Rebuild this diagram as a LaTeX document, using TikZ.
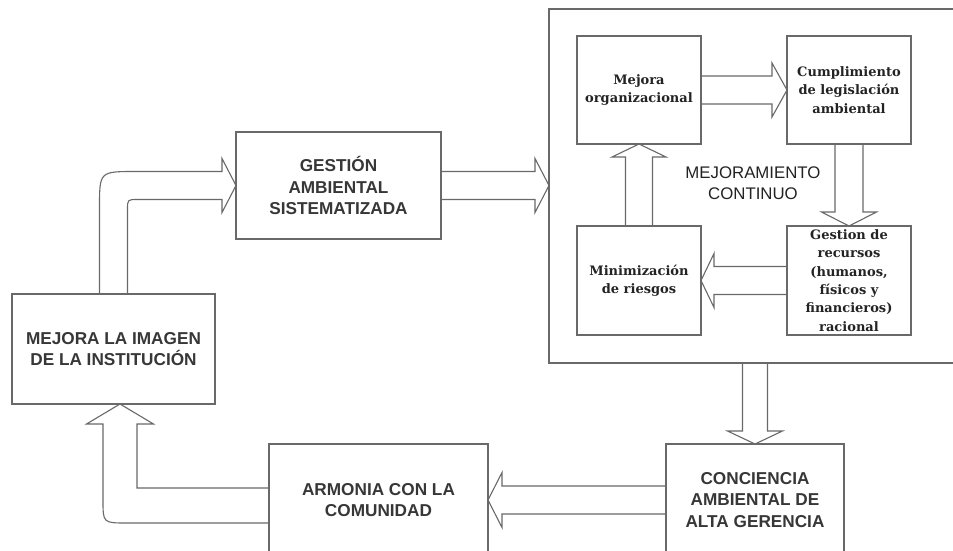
\documentclass[tikz,border=0pt]{standalone}
\usepackage{fontspec}
\setmainfont{Liberation Sans}
\newfontfamily\boxserif{DejaVu Serif}
\usetikzlibrary{calc}

\definecolor{linegray}{RGB}{105,105,105}
\definecolor{txt}{RGB}{35,35,35}
\definecolor{captxt}{RGB}{55,55,55}

% block arrows between boxes: #1 from, #2 to, #3 half shaft, #4 half head, #5 head length
\newcommand\blockright[5]{%
  \draw[conn] ($(#1.east)+(0,-#3)$) -- ($(#2.west|-#1.east)+(-#5,-#3)$)
    -- ($(#2.west|-#1.east)+(-#5,-#4)$) -- (#2.west|-#1.east)
    -- ($(#2.west|-#1.east)+(-#5,#4)$) -- ($(#2.west|-#1.east)+(-#5,#3)$)
    -- ($(#1.east)+(0,#3)$);}
\newcommand\blockleft[5]{%
  \draw[conn] ($(#1.west)+(0,-#3)$) -- ($(#2.east|-#1.west)+(#5,-#3)$)
    -- ($(#2.east|-#1.west)+(#5,-#4)$) -- (#2.east|-#1.west)
    -- ($(#2.east|-#1.west)+(#5,#4)$) -- ($(#2.east|-#1.west)+(#5,#3)$)
    -- ($(#1.west)+(0,#3)$);}
\newcommand\blockdown[5]{%
  \draw[conn] ($(#1.south-|#2.north)+(-#3,0)$) -- ($(#2.north)+(-#3,-#5)$)
    -- ($(#2.north)+(-#4,-#5)$) -- (#2.north)
    -- ($(#2.north)+(#4,-#5)$) -- ($(#2.north)+(#3,-#5)$)
    -- ($(#1.south-|#2.north)+(#3,0)$);}
\newcommand\blockup[5]{%
  \draw[conn] ($(#1.north-|#2.south)+(-#3,0)$) -- ($(#2.south)+(-#3,#5)$)
    -- ($(#2.south)+(-#4,#5)$) -- (#2.south)
    -- ($(#2.south)+(#4,#5)$) -- ($(#2.south)+(#3,#5)$)
    -- ($(#1.north-|#2.south)+(#3,0)$);}

\begin{document}
\begin{tikzpicture}[x=1pt,y=-1pt,
  box/.style={draw=linegray, line width=1.1pt, inner sep=0pt, outer sep=0pt,
    anchor=north west, align=center, text=txt},
  caps/.style={text=captxt, font=\bfseries\fontsize{17.2}{21.5}\selectfont},
  small/.style={font=\boxserif\bfseries\fontsize{13}{18.4}\selectfont,
    minimum width=124pt, minimum height=108pt},
  conn/.style={draw=linegray, line width=1.1pt, line join=miter}]

\useasboundingbox (0,0) rectangle (953,551);
\clip (0,0) rectangle (953,551);
\fill[white] (0,0) rectangle (953,551);

% outer boxes
\node[box,caps,minimum width=203pt,minimum height=110pt] (img) at (12,294)
  {MEJORA LA IMAGEN\\DE LA INSTITUCIÓN};
\node[box,caps,minimum width=205pt,minimum height=107pt] (gest) at (236,132)
  {GESTIÓN\\AMBIENTAL\\SISTEMATIZADA};
\node[box,minimum width=430pt,minimum height=354pt] (big) at (549,9) {};
\node[text=txt,align=center,font=\fontsize{16.8}{21.5}\selectfont] (mc) at (753,183)
  {MEJORAMIENTO\\CONTINUO};
\node[box,caps,minimum width=178pt,minimum height=112pt] (conc) at (666,444)
  {CONCIENCIA\\AMBIENTAL DE\\ALTA GERENCIA};
\node[box,caps,minimum width=219pt,minimum height=112pt] (arm) at (269,444)
  {ARMONIA CON LA\\COMUNIDAD};

% inner cycle
\node[box,small] (org) at (577,36) {Mejora\\organizacional};
\node[box,small] (leg) at (787,36) {Cumplimiento\\de legislación\\ambiental};
\node[box,small,minimum height=109pt] (rec) at (787,226)
  {Gestion de\\recursos\\(humanos,\\físicos y\\financieros)\\racional};
\node[box,small,minimum height=109pt] (min) at (577,226) {Minimización\\de riesgos};

\blockright{gest}{big}{14}{27}{14}
\blockright{org}{leg}{14}{27}{15}
\blockdown{leg}{rec}{14}{27.5}{14}
\blockleft{rec}{min}{14}{27}{13}
\blockup{min}{org}{13.5}{27}{13}
\blockdown{big}{conc}{12.5}{27.5}{13}
\blockleft{conc}{arm}{14}{27.5}{14}

% bent arrow from the image box up and over to the management box
\coordinate (k) at (img.north |- gest.west);
\draw[conn] ($(img.north)+(-14,0)$) -- ($(k)+(-14,22)$)
  .. controls ($(k)+(-14,-14)$) .. ($(k)+(22,-14)$)
  -- ($(gest.west)+(-14,-14)$) -- ($(gest.west)+(-14,-27)$) -- (gest.west)
  -- ($(gest.west)+(-14,27)$) -- ($(gest.west)+(-14,14)$)
  -- ($(k)+(24,14)$) .. controls ($(k)+(14,14)$) .. ($(k)+(14,24)$)
  -- ($(img.north)+(14,0)$);

% bent arrow from the community box back up to the image box
\coordinate (q) at ($(img.south)+(6.5,0)$);
\coordinate (c) at (q |- arm.west);
\draw[conn] ($(arm.west)+(0,-12)$) -- ($(c)+(17,-12)$) -- ($(q)+(17,20)$)
  -- ($(q)+(33.5,20)$) -- (q) -- ($(q)+(-33.5,20)$) -- ($(q)+(-17,20)$)
  -- ($(c)+(-17,0)$) .. controls ($(c)+(-17,23)$) .. ($(c)+(7,23)$)
  -- ($(arm.west)+(0,23)$);
\end{tikzpicture}
\end{document}
